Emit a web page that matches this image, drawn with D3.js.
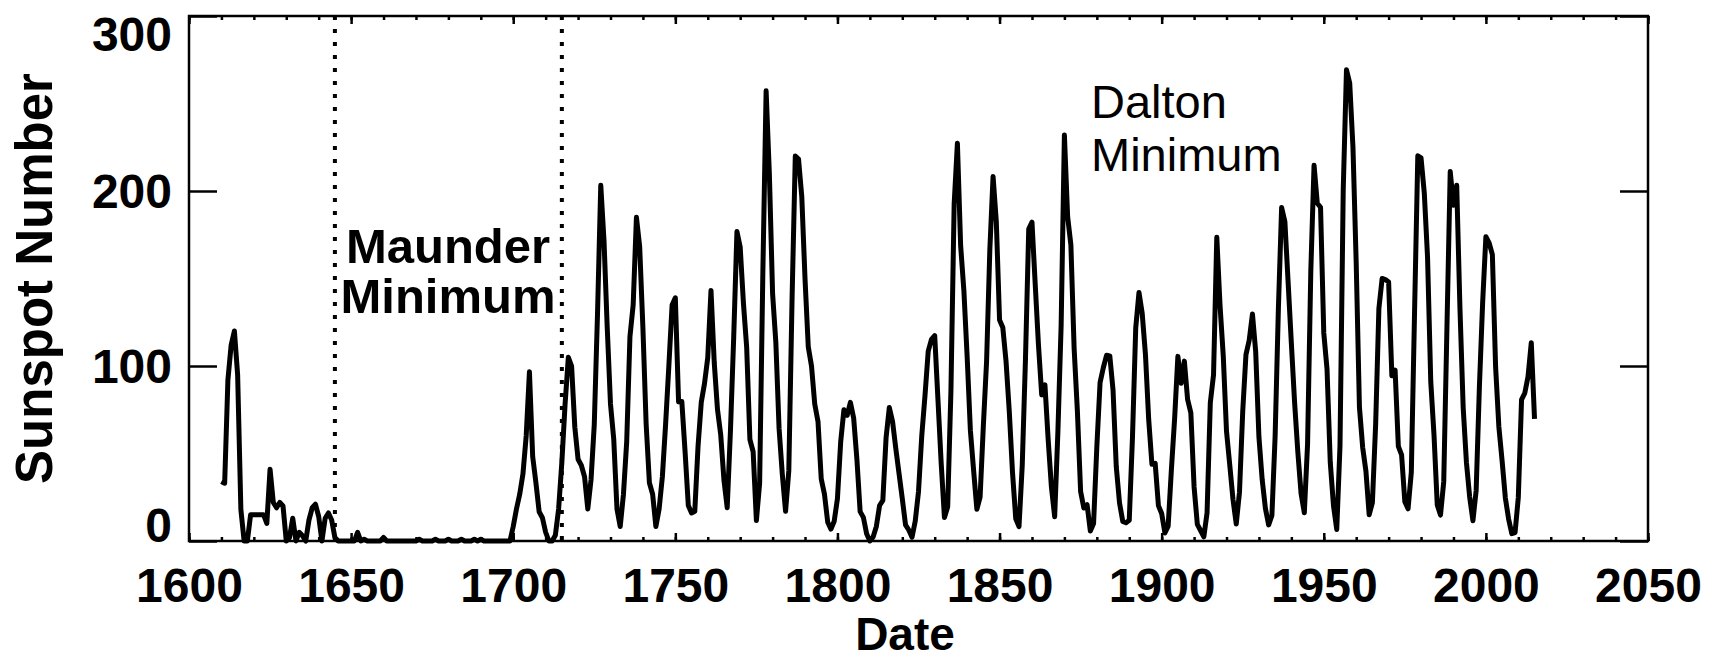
<!DOCTYPE html>
<html>
<head>
<meta charset="utf-8">
<script src="https://cdn.jsdelivr.net/npm/d3@7"></script>
<style>
  html, body { margin: 0; padding: 0; background: #fff; }
  svg { display: block; }
</style>
</head>
<body>
<svg id="chart" width="1717" height="660"></svg>
<script>
// Yearly sunspot number, one value per year starting at firstYear
const firstYear = 1610;
const sunspotNumber = [
  // 1610-1649
  34, 33, 92, 112, 120, 95, 18, 0, 0, 15,
  15, 15, 15, 15, 10, 41, 22, 19, 22, 20,
  0, 2, 13, 0, 5, 3, 0, 12, 19, 21,
  14, 0, 13, 16, 12, 2, 0, 0, 0, 0,
  // 1650-1699
  0, 0, 5, 0, 1, 0, 0, 0, 0, 0,
  2, 0, 0, 0, 0, 0, 0, 0, 0, 0,
  0, 1, 0, 0, 0, 0, 1, 0, 0, 0,
  1, 0, 0, 0, 1, 0, 0, 0, 1, 0,
  1, 0, 0, 0, 0, 0, 0, 0, 0, 0,
  // 1700-1799
  8.3, 18.3, 26.7, 38.3, 60.0, 96.7, 48.3, 33.3, 16.7, 13.3,
  5.0, 0.0, 0.0, 3.3, 18.3, 45.0, 78.3, 105.0, 100.0, 65.0,
  46.7, 43.3, 36.7, 18.3, 35.0, 66.7, 130.0, 203.3, 171.7, 121.7,
  78.3, 58.3, 18.3, 8.3, 26.7, 56.7, 116.7, 135.0, 185.0, 168.3,
  121.7, 66.7, 33.3, 26.7, 8.3, 18.3, 36.7, 66.7, 100.0, 134.8,
  139.0, 79.5, 79.7, 51.2, 20.3, 16.0, 17.0, 54.0, 79.3, 90.0,
  104.8, 143.2, 102.0, 75.2, 60.7, 34.8, 19.0, 63.0, 116.3, 176.8,
  168.0, 136.0, 110.8, 58.0, 51.0, 11.7, 33.0, 154.2, 257.3, 209.8,
  141.3, 113.5, 64.2, 38.0, 17.0, 40.2, 138.2, 220.0, 218.2, 196.8,
  149.8, 111.0, 100.0, 78.2, 68.3, 35.5, 26.7, 10.7, 6.8, 11.3,
  // 1800-1899
  24.2, 56.7, 75.0, 71.8, 79.2, 70.3, 46.8, 16.8, 13.5, 4.2,
  0.0, 2.3, 8.3, 20.3, 23.2, 59.0, 76.3, 68.3, 52.9, 38.5,
  24.2, 9.2, 6.3, 2.2, 11.4, 28.2, 59.9, 83.0, 108.5, 115.2,
  117.4, 80.8, 44.3, 13.4, 19.5, 85.8, 192.7, 227.3, 168.7, 143.0,
  105.5, 63.3, 40.3, 18.1, 25.1, 65.8, 102.7, 166.3, 208.3, 182.5,
  126.3, 122.0, 102.7, 74.1, 39.0, 12.7, 8.2, 43.4, 104.4, 178.3,
  182.2, 146.6, 112.1, 83.5, 89.2, 57.8, 30.7, 13.9, 62.8, 123.6,
  232.0, 185.3, 169.2, 110.1, 74.5, 28.3, 18.9, 20.7, 5.7, 10.0,
  53.7, 90.5, 99.0, 106.1, 105.8, 86.3, 42.4, 21.8, 11.2, 10.4,
  11.8, 59.5, 121.7, 142.0, 130.0, 106.6, 69.4, 43.8, 44.4, 20.2,
  // 1900-1999
  15.7, 4.6, 8.5, 40.8, 70.1, 105.5, 90.1, 102.8, 80.9, 73.2,
  30.9, 9.5, 6.0, 2.4, 16.1, 79.0, 95.0, 173.6, 134.6, 105.7,
  62.7, 43.5, 23.7, 9.7, 27.9, 74.0, 106.5, 114.7, 129.7, 108.2,
  59.4, 35.1, 18.6, 9.2, 14.6, 60.2, 132.8, 190.6, 182.6, 148.0,
  113.0, 79.2, 50.8, 27.1, 16.1, 55.3, 154.3, 214.7, 193.0, 190.7,
  118.9, 98.3, 45.0, 20.1, 6.6, 54.2, 200.7, 269.3, 261.7, 225.1,
  159.0, 76.4, 53.4, 39.9, 15.0, 22.0, 66.8, 132.9, 150.0, 149.4,
  148.0, 94.4, 97.6, 54.1, 49.2, 22.5, 18.4, 39.3, 131.0, 220.1,
  218.9, 198.9, 162.4, 91.0, 60.5, 20.6, 14.8, 33.9, 123.0, 211.1,
  191.8, 203.3, 133.0, 76.1, 44.9, 25.1, 11.6, 28.9, 88.3, 136.3,
  // 2000-2015
  173.9, 170.4, 163.6, 99.3, 65.3, 45.8, 24.7, 12.6, 4.2, 4.8,
  24.9, 80.8, 84.5, 94.0, 113.3, 69.8
];

const xDomain = [1600, 2050];
const yDomain = [0, 300];
const xMajorTicks = [1600, 1650, 1700, 1750, 1800, 1850, 1900, 1950, 2000, 2050];
const xMinorTicks = [1600, 1610, 1620, 1630, 1640, 1650, 1660, 1670, 1680, 1690,
  1700, 1710, 1720, 1730, 1740, 1750, 1760, 1770, 1780, 1790, 1800, 1810, 1820,
  1830, 1840, 1850, 1860, 1870, 1880, 1890, 1900, 1910, 1920, 1930, 1940, 1950,
  1960, 1970, 1980, 1990, 2000, 2010, 2020, 2030, 2040, 2050];
const yTicks = [0, 100, 200, 300];
const minimumBounds = [1645, 1715];

(function draw() {
  const series = sunspotNumber.map((v, i) => ({ year: firstYear + i, value: v }));

  const plotLeft = 189, plotRight = 1648, plotTop = 16, plotBottom = 541;
  const svg = d3.select("#chart");
  const fontFamily = "'Liberation Sans', Arial, Helvetica, sans-serif";

  const x = d3.scaleLinear().domain(xDomain).range([plotLeft, plotRight]);
  const y = d3.scaleLinear().domain(yDomain).range([plotBottom, plotTop]);

  // Dotted lines bracketing the Maunder Minimum
  svg.append("g")
    .selectAll("line")
    .data(minimumBounds)
    .join("line")
    .attr("x1", d => x(d)).attr("x2", d => x(d))
    .attr("y1", plotTop).attr("y2", plotBottom)
    .attr("stroke", "#000")
    .attr("stroke-width", 4)
    .attr("stroke-dasharray", "4 9");

  // Sunspot curve
  const line = d3.line().x(d => x(d.year)).y(d => y(d.value));
  svg.append("path")
    .datum(series)
    .attr("d", line)
    .attr("fill", "none")
    .attr("stroke", "#000")
    .attr("stroke-width", 5)
    .attr("stroke-linejoin", "round");

  // Plot frame
  svg.append("rect")
    .attr("x", plotLeft).attr("y", plotTop)
    .attr("width", plotRight - plotLeft).attr("height", plotBottom - plotTop)
    .attr("fill", "none")
    .attr("stroke", "#000")
    .attr("stroke-width", 2.5);

  function styleAxis(g) {
    g.select(".domain").remove();
    g.selectAll(".tick line").attr("stroke", "#000").attr("stroke-width", 2.5);
    g.selectAll("text")
      .attr("fill", "#000")
      .style("font-family", fontFamily)
      .style("font-weight", "bold")
      .style("font-size", "48px");
  }

  // Bottom axis: major labelled ticks, minor unlabelled ticks
  svg.append("g")
    .attr("transform", `translate(0,${plotBottom})`)
    .call(d3.axisBottom(x).tickValues(xMajorTicks).tickFormat(d3.format("d"))
      .tickSize(-8).tickPadding(27))
    .call(styleAxis);
  svg.append("g")
    .attr("transform", `translate(0,${plotBottom})`)
    .call(d3.axisBottom(x).tickValues(xMinorTicks).tickFormat("").tickSize(-4))
    .call(styleAxis);

  // Top axis ticks
  svg.append("g")
    .attr("transform", `translate(0,${plotTop})`)
    .call(d3.axisTop(x).tickValues(xMajorTicks).tickFormat("").tickSize(-8))
    .call(styleAxis);
  svg.append("g")
    .attr("transform", `translate(0,${plotTop})`)
    .call(d3.axisTop(x).tickValues(xMinorTicks).tickFormat("").tickSize(-4))
    .call(styleAxis);

  // Left axis with labels; end labels kept within the frame height
  const yAxisG = svg.append("g")
    .attr("transform", `translate(${plotLeft},0)`)
    .call(d3.axisLeft(y).tickValues(yTicks).tickFormat(d3.format("d"))
      .tickSize(-28).tickPadding(17))
    .call(styleAxis);
  yAxisG.selectAll(".tick text")
    .attr("dy", d => d === yDomain[0] ? "0em" : d === yDomain[1] ? "0.71em" : "0.35em");

  // Right axis ticks
  svg.append("g")
    .attr("transform", `translate(${plotRight},0)`)
    .call(d3.axisRight(y).tickValues(yTicks).tickFormat("").tickSize(-28))
    .call(styleAxis);

  // Axis titles
  svg.append("text")
    .attr("transform", `translate(52,${(plotTop + plotBottom) / 2}) rotate(-90)`)
    .attr("text-anchor", "middle")
    .style("font-family", fontFamily)
    .style("font-weight", "bold")
    .style("font-size", "51px")
    .text("Sunspot Number");

  svg.append("text")
    .attr("x", 905).attr("y", 650)
    .attr("text-anchor", "middle")
    .style("font-family", fontFamily)
    .style("font-weight", "bold")
    .style("font-size", "46px")
    .text("Date");

  // Annotations
  const maunder = svg.append("text")
    .attr("text-anchor", "middle")
    .style("font-family", fontFamily)
    .style("font-weight", "bold")
    .style("font-size", "49px");
  maunder.append("tspan").attr("x", 448).attr("y", 263).text("Maunder");
  maunder.append("tspan").attr("x", 448).attr("y", 313).text("Minimum");

  const dalton = svg.append("text")
    .style("font-family", fontFamily)
    .style("font-size", "47px");
  dalton.append("tspan").attr("x", 1091).attr("y", 118).text("Dalton");
  dalton.append("tspan").attr("x", 1091).attr("y", 171).text("Minimum");
})();
</script>
</body>
</html>
